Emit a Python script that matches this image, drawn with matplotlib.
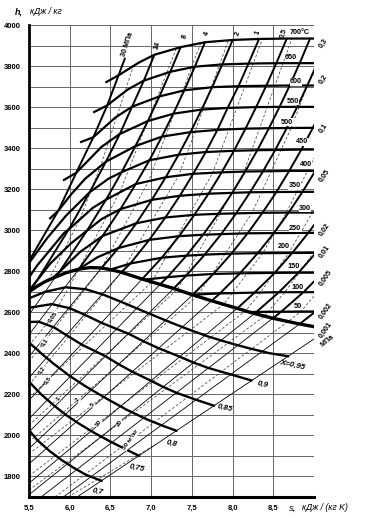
import matplotlib
matplotlib.use('Agg')
import matplotlib.pyplot as plt
import numpy as np

# h-s diagram of water vapour
# s in kJ/(kg K), h in kJ/kg

# saturation line x = 1
sat_s = [5.5, 5.6, 5.7, 5.825, 5.95, 6.11, 6.25, 6.39, 6.5, 6.635, 6.89, 7.11,
         7.277, 7.509, 7.743, 8.057, 8.269, 8.495, 8.823, 9.0]
sat_h = [2700, 2727, 2750, 2772, 2792, 2810, 2818, 2816, 2808, 2795, 2762, 2736,
         2716, 2685, 2656, 2619, 2594, 2571, 2543, 2530]

# dryness lines
dry_names = ['0,7', '0,75', '0,8', '0,85', '0,9', 'X=0,95']
dry_s = [
    [5.5, 5.6, 5.75, 5.9, 6.05, 6.2, 6.39],
    [5.5, 5.65, 5.8, 5.96, 6.12, 6.3, 6.5, 6.7, 6.85],
    [5.5, 5.65, 5.8, 6.0, 6.2, 6.45, 6.7, 6.95, 7.15, 7.31],
    [5.5, 5.62, 5.81, 5.97, 6.15, 6.44, 6.6, 6.77, 7.0, 7.15, 7.31, 7.55, 7.77],
    [5.5, 5.78, 6.0, 6.19, 6.4, 6.72, 6.9, 7.09, 7.35, 7.52, 7.7, 7.98, 8.23],
    [5.5, 5.7, 5.95, 6.2, 6.42, 6.65, 6.95, 7.23, 7.45, 7.7, 7.95, 8.2, 8.45, 8.68],
]
dry_h = [
    [2026, 1978, 1925, 1880, 1842, 1808, 1779],
    [2262, 2200, 2148, 2098, 2056, 2013, 1970, 1930, 1901],
    [2453, 2400, 2350, 2290, 2238, 2180, 2125, 2078, 2046, 2023],
    [2553, 2554, 2526, 2486, 2442, 2386, 2347, 2310, 2266, 2236, 2208, 2174, 2145],
    [2622, 2640, 2620, 2587, 2547, 2496, 2460, 2425, 2384, 2355, 2329, 2297, 2268],
    [2668, 2700, 2722, 2712, 2685, 2648, 2598, 2552, 2518, 2482, 2452, 2425, 2401, 2386],
]

# isobars in the superheated region (MPa)
p_names = ['30', '14', '8', '4', '2', '1', '0,5', '0,3', '0,2', '0,1', '0,05',
           '0,02', '0,01', '0,005', '0,002']
bar_s = [
    [5.5, 5.86, 6.08, 6.29, 6.46, 6.6, 6.68],
    [5.5, 5.6, 6.0, 6.245, 6.445, 6.615, 6.766, 6.91, 7.04],
    [5.825, 5.874, 6.212, 6.446, 6.638, 6.807, 6.96, 7.102, 7.235, 7.362],
    [6.11, 6.27, 6.404, 6.624, 6.811, 6.979, 7.132, 7.276, 7.411, 7.54, 7.661],
    [6.39, 6.598, 6.818, 7.008, 7.179, 7.337, 7.484, 7.622, 7.754, 7.88, 8.001],
    [6.635, 6.746, 6.977, 7.175, 7.353, 7.517, 7.671, 7.814, 7.943, 8.081, 8.205, 8.326],
    [6.89, 7.131, 7.343, 7.531, 7.705, 7.866, 8.017, 8.159, 8.293, 8.424, 8.548, 8.668],
    [7.11, 7.199, 7.433, 7.638, 7.824, 7.996, 8.155, 8.304, 8.447, 8.582, 8.712, 8.836, 8.955],
    [7.277, 7.431, 7.658, 7.86, 8.044, 8.215, 8.374, 8.524, 8.665, 8.8, 8.929, 9.053],
    [7.509, 7.765, 7.986, 8.185, 8.367, 8.538, 8.695, 8.845, 8.986, 9.121],
    [7.743, 7.845, 8.091, 8.309, 8.507, 8.689, 8.859, 9.016],
    [8.057, 8.27, 8.517, 8.732, 8.93, 9.113],
    [8.269, 8.294, 8.569, 8.809, 9.025],
    [8.495, 8.597, 8.87, 9.11],
    [8.823, 9.02],
]
bar_h = [
    [2850, 3095, 3280, 3453, 3608, 3755, 3840],
    [2700, 2756, 3012, 3185, 3334, 3469, 3602, 3729, 3855],
    [2772, 2797, 2998, 3149, 3283, 3410, 3532, 3652, 3772, 3892],
    [2810, 2897, 2972, 3103, 3225, 3341, 3456, 3571, 3685, 3800, 3916],
    [2816, 2913, 3034, 3148, 3258, 3368, 3478, 3590, 3701, 3814, 3927],
    [2795, 2838, 2953, 3062, 3168, 3275, 3381, 3489, 3599, 3709, 3821, 3933],
    [2762, 2866, 2971, 3075, 3178, 3282, 3387, 3495, 3603, 3713, 3824, 3936],
    [2736, 2771, 2876, 2978, 3080, 3182, 3286, 3390, 3497, 3605, 3714, 3825, 3937],
    [2716, 2779, 2881, 2981, 3082, 3185, 3287, 3391, 3498, 3606, 3715, 3826],
    [2685, 2787, 2886, 2985, 3085, 3186, 3289, 3393, 3499, 3608],
    [2656, 2692, 2790, 2888, 2986, 3086, 3187, 3289],
    [2619, 2696, 2792, 2889, 2987, 3086],
    [2594, 2602, 2698, 2793, 2890],
    [2571, 2603, 2698, 2794],
    [2543, 2604],
]

# isobars in the wet region (straight, thin): upper end, lower end
wet_s = [[5.825, 5.5], [6.11, 5.5], [6.39, 5.5], [6.635, 5.5], [6.89, 5.5],
         [7.11, 5.5], [7.277, 5.5], [7.509, 5.5], [7.743, 5.5], [8.057, 5.5],
         [8.269, 5.5], [8.495, 5.649], [8.823, 5.922], [9.0, 6.09]]
wet_h = [[2772, 2587], [2810, 2491], [2816, 2384], [2795, 2281], [2762, 2171],
         [2736, 2081], [2716, 2017], [2685, 1936], [2656, 1861], [2619, 1767],
         [2594, 1711], [2571, 1700], [2543, 1700], [2470, 1700]]

# isotherms (deg C)
t_names = ['700°C', '650', '600', '550', '500', '450', '400', '350', '300',
           '250', '200', '150', '100', '50']
therm_s = [
    [6.45, 6.6, 6.85, 7.04, 7.362, 7.661, 8.001, 8.326, 8.668, 8.955, 9.0],
    [6.3, 6.46, 6.71, 6.91, 7.235, 7.54, 7.88, 8.205, 8.548, 8.836, 9.0],
    [6.14, 6.29, 6.56, 6.766, 7.102, 7.411, 7.754, 8.081, 8.424, 8.712, 8.929, 9.0],
    [5.93, 6.08, 6.39, 6.615, 6.96, 7.276, 7.622, 7.943, 8.293, 8.582, 8.8, 9.0],
    [5.76, 5.86, 6.02, 6.19, 6.445, 6.807, 7.132, 7.484, 7.814, 8.159, 8.447, 8.665, 8.986, 9.0],
    [5.5, 5.72, 5.955, 6.245, 6.48, 6.638, 6.979, 7.337, 7.671, 8.017, 8.304, 8.524, 8.845, 9.0],
    [5.5, 5.6, 5.93, 6.0, 6.28, 6.446, 6.811, 7.179, 7.517, 7.866, 8.155, 8.374, 8.695, 9.0],
    [5.5, 5.6, 5.76, 6.01, 6.212, 6.39, 6.624, 7.008, 7.353, 7.705, 7.996, 8.215, 8.538, 8.859, 9.0],
    [5.79, 5.874, 6.13, 6.404, 6.818, 7.175, 7.531, 7.824, 8.044, 8.367, 8.689, 9.0],
    [6.11, 6.335, 6.598, 6.977, 7.343, 7.638, 7.86, 8.185, 8.507, 8.93, 9.0],
    [6.5, 6.746, 7.131, 7.433, 7.658, 7.986, 8.309, 8.732, 9.0],
    [6.91, 7.199, 7.431, 7.765, 8.091, 8.517, 8.809, 9.0],
    [7.505, 7.845, 8.27, 8.569, 8.87, 9.0],
    [8.2, 8.294, 8.597, 9.0],
]
therm_h = [
    [3722, 3755, 3817, 3855, 3892, 3916, 3927, 3932, 3934, 3934, 3934],
    [3576, 3608, 3685, 3729, 3772, 3797, 3808, 3812, 3814, 3814, 3814],
    [3430, 3453, 3549, 3602, 3652, 3682, 3697, 3702, 3704, 3705, 3705, 3705],
    [3245, 3280, 3406, 3469, 3532, 3568, 3588, 3596, 3600, 3601, 3601, 3601],
    [3058, 3095, 3176, 3251, 3334, 3410, 3456, 3478, 3489, 3495, 3497, 3498, 3499, 3499],
    [2840, 2960, 3071, 3185, 3252, 3283, 3341, 3368, 3381, 3387, 3390, 3391, 3393, 3393],
    [2770, 2828, 2986, 3008, 3108, 3149, 3225, 3258, 3275, 3282, 3286, 3287, 3289, 3289],
    [2705, 2756, 2837, 2934, 2998, 3054, 3103, 3148, 3168, 3178, 3182, 3185, 3186, 3187, 3187],
    [2767, 2797, 2895, 2972, 3034, 3062, 3075, 3080, 3082, 3085, 3086, 3086],
    [2810, 2867, 2913, 2953, 2971, 2978, 2981, 2985, 2986, 2987, 2987],
    [2808, 2838, 2866, 2876, 2881, 2886, 2888, 2889, 2890],
    [2759, 2771, 2779, 2787, 2790, 2792, 2793, 2793],
    [2686, 2692, 2696, 2698, 2698, 2698],
    [2601, 2602, 2603, 2604],
]

# specific volume lines (m3/kg), wet part and superheated part joined at x = 1
v_names = ['0,05', '0,1', '0,2', '0,5', '1', '2', '5', '10', '20', '50 м³/кг']
vol_s = [
    [5.5, 5.79, 6.11, 6.62, 7.31],
    [5.5, 5.69, 6.39, 6.97, 7.61],
    [5.5, 6.635, 7.34, 7.95],
    [5.5, 7.01, 7.757, 8.37],
    [5.5, 7.32, 8.14, 8.73],
    [5.5, 7.57, 8.24, 8.72, 8.93, 9.05],
    [5.5, 7.89, 8.37, 8.66, 8.92, 9.05],
    [5.5, 8.16, 8.34, 8.69, 8.98, 9.05],
    [5.5, 8.39, 8.64, 8.82, 8.99, 9.05],
    [5.82, 8.68, 8.84, 9.04],
    [5.98, 7.05],
]
vol_h = [
    [2440, 2578, 2810, 3190, 3886],
    [2360, 2457, 2816, 3241, 3913],
    [2246, 2795, 3267, 3926],
    [2184, 2748, 3281, 3936],
    [2050, 2711, 3285, 3936],
    [1967, 2680, 3085, 3499, 3715, 3800],
    [1910, 2639, 2888, 3086, 3289, 3390],
    [1803, 2607, 2696, 2889, 3086, 3130],
    [1734, 2581, 2698, 2793, 2889, 2920],
    [1700, 2555, 2604, 2698],
    [1700, 1955],
]
vol_hi_s = [5.74, 6.12, 6.38, 6.79]
vol_hi_h = [2757, 3050, 3313, 3810]

s_ticks = [5.5, 6.0, 6.5, 7.0, 7.5, 8.0, 8.5]
s_tick_labels = ['5,5', '6,0', '6,5', '7,0', '7,5', '8,0', '8,5']
h_ticks = [1800, 2000, 2200, 2400, 2600, 2800, 3000, 3200, 3400, 3600, 3800, 4000]

plt.rcParams['font.family'] = ['Liberation Sans', 'DejaVu Sans']

fig = plt.figure(figsize=(3.66, 5.31), dpi=100)
ax = fig.add_axes([29 / 366, 34 / 531, 285 / 366, 472 / 531])
ax.set_xlim(5.5, 9.0)
ax.set_ylim(1700, 4000)

# grid
for s in np.arange(6.0, 9.01, 0.5):
    ax.axvline(s, color='#666666', lw=0.7, zorder=0)
for h in range(1800, 4001, 100):
    ax.axhline(h, color='#666666', lw=0.7, zorder=0)

for sp in ['top', 'right']:
    ax.spines[sp].set_visible(False)
ax.spines['left'].set_linewidth(2.0)
ax.spines['bottom'].set_linewidth(2.2)

ax.set_xticks(s_ticks)
ax.set_xticklabels(s_tick_labels)
ax.set_yticks(h_ticks)
ax.set_yticklabels([str(v) for v in h_ticks])
ax.tick_params(length=0, labelsize=5.5, pad=6)
for lab in ax.get_xticklabels() + ax.get_yticklabels():
    lab.set_fontweight('bold')

# volume lines (dashed)
for xs, ys in zip(vol_s, vol_h):
    ax.plot(xs, ys, color='#444444', lw=0.55, dashes=(3.5, 2.5), zorder=1)
ax.plot(vol_hi_s, vol_hi_h, color='#444444', lw=0.55, dashes=(3.5, 2.5), zorder=1)

# wet isobars (thin)
for xs, ys in zip(wet_s, wet_h):
    ax.plot(xs, ys, color='black', lw=0.6, zorder=2)

# superheated isobars
for xs, ys in zip(bar_s, bar_h):
    ax.plot(xs, ys, color='black', lw=1.4, zorder=3, solid_capstyle='butt')

# isotherms
for xs, ys in zip(therm_s, therm_h):
    ax.plot(xs, ys, color='black', lw=1.6, zorder=3)

# dryness lines
for xs, ys in zip(dry_s, dry_h):
    ax.plot(xs, ys, color='black', lw=1.7, zorder=3)

# saturation line
ax.plot(sat_s, sat_h, color='black', lw=2.4, zorder=4)

bold = dict(fontweight='bold', color='black')

# isotherm labels
t_spots = [(8.82, 3962), (8.72, 3840), (8.78, 3724), (8.74, 3627), (8.67, 3526),
           (8.85, 3431), (8.9, 3318), (8.76, 3217), (8.89, 3108), (8.77, 3009),
           (8.63, 2921), (8.75, 2823), (8.80, 2723), (8.80, 2628)]
for name, (x, y) in zip(t_names, t_spots):
    ax.text(x, y, name, fontsize=5.2, ha='center', va='center', zorder=6,
            bbox=dict(boxstyle='square,pad=0.05', fc='white', ec='none'), **bold)

# isobar labels at the top
top_spots = [(6.71, 3905, '30 МПа'), (7.08, 3900, '14'), (7.41, 3945, '8'),
             (7.69, 3960, '4'), (8.07, 3960, '2'), (8.31, 3965, '1'),
             (8.63, 3960, '0,5')]
for x, y, name in top_spots:
    ax.text(x, y, name, fontsize=5.2, ha='center', va='center', rotation=72,
            zorder=6, **bold)

# isobar labels on the right
right_spots = [3910, 3735, 3497, 3268, 3000, 2893, 2766, 2606, 2515]
for name, y in zip(['0,3', '0,2', '0,1', '0,05', '0,02', '0,01', '0,005',
                    '0,002', '0,001'], right_spots):
    ax.text(9.05, y, name, fontsize=5.2, ha='left', va='center', rotation=55,
            clip_on=False, **bold)
ax.text(9.07, 2462, 'МПа', fontsize=5.2, ha='left', va='center', rotation=40,
        clip_on=False, **bold)

# dryness labels
dry_spots = [(6.35, 1726), (6.82, 1840), (7.25, 1962), (7.90, 2132), (8.37, 2246),
             (8.74, 2343)]
for name, (x, y) in zip(dry_names, dry_spots):
    ax.text(x, y, name, fontsize=5.8, ha='center', va='center', style='italic',
            rotation=-12, zorder=6, **bold)

# volume labels
v_spots = [(5.79, 2578), (5.69, 2457), (5.65, 2319), (5.73, 2270), (5.86, 2181),
           (6.10, 2173), (6.28, 2148), (6.35, 2059), (6.61, 2059), (6.75, 1978)]
for name, (x, y) in zip(v_names, v_spots):
    ax.text(x, y, name, fontsize=4.6, ha='center', va='center', rotation=55,
            zorder=6, bbox=dict(boxstyle='square,pad=0.05', fc='white', ec='none'),
            **bold)

# axis titles
fig.text(15 / 366, 1 - 12 / 531, 'h,', fontsize=6.5, fontweight='bold',
         style='italic', va='center')
fig.text(30 / 366, 1 - 12 / 531, 'кДж / кг', fontsize=6.3, style='italic',
         va='center')
fig.text(289 / 366, 1 - 508 / 531, 's,', fontsize=6.8, style='italic',
         va='center')
fig.text(302 / 366, 1 - 508 / 531, 'кДж / (кг K)', fontsize=6.3, style='italic',
         va='center')

fig.savefig('out.png', dpi=100, facecolor='white')
